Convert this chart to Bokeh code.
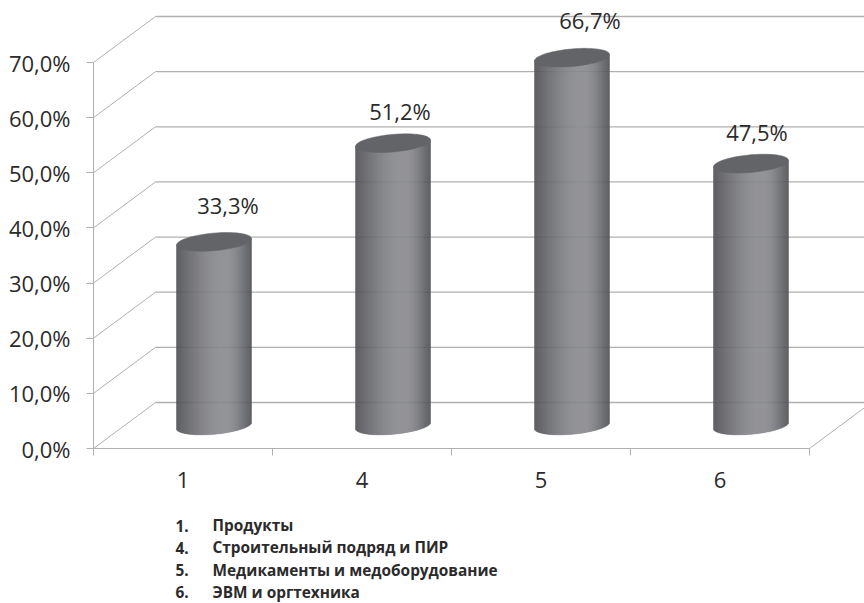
import numpy as np
from bokeh.plotting import figure
from bokeh.models import Range1d, FixedTicker, ColumnDataSource
from bokeh.core.properties import value
from bokeh.embed import file_html
from bokeh.resources import INLINE

# ---- data
categories = ["1", "4", "5", "6"]
values = [33.3, 51.2, 66.7, 47.5]
value_labels = ["33,3%", "51,2%", "66,7%", "47,5%"]
y_ticks = [0, 10, 20, 30, 40, 50, 60, 70]
y_tick_labels = ["0,0%", "10,0%", "20,0%", "30,0%", "40,0%", "50,0%", "60,0%", "70,0%"]
legend_numbers = ["1.", "4.", "5.", "6."]
legend_names = ["Продукты", "Строительный подряд и ПИР", "Медикаменты и медоборудование", "ЭВМ и оргтехника"]

# ---- layout
W, H = 864, 603
LEFT, BOTTOM = 93, 155
PX_X = 179.0      # px per category slot
PX_Y = 386 / 70   # px per percent
DX, DY = 62 / PX_X, 46 / PX_Y   # 3D depth in data units
FONT = "Open Sans"
GRID = "#b0b0b0"
label_dx = [14, 7, 18, 6]
label_dy = [37, 32, 38, 32]
X_END = (W - LEFT) / PX_X

p = figure(width=W, height=H, output_backend="svg", toolbar_location=None,
           x_range=Range1d(-LEFT / PX_X, X_END), y_range=Range1d(-BOTTOM / PX_Y, (H - BOTTOM) / PX_Y),
           min_border=0, outline_line_color=None,
           background_fill_color="white", border_fill_color="white")
p.grid.visible = False

# ---- axes
ya = p.yaxis[0]
ya.fixed_location = 0
ya.ticker = FixedTicker(ticks=y_ticks)
ya.major_label_overrides = {t: l for t, l in zip(y_ticks, y_tick_labels)}
ya.bounds = (0, 70)
ya.major_tick_in, ya.major_tick_out, ya.minor_tick_in, ya.minor_tick_out = 0, 7, 0, 0
ya.major_label_standoff = 16
ya.major_label_text_font = FONT
ya.major_label_text_font_size = "22px"
ya.major_label_text_color = "#2b2b2b"
ya.axis_line_color = GRID
ya.major_tick_line_color = GRID

xa = p.xaxis[0]
xa.fixed_location = 0
n = len(categories)
centers = [i + 0.5 for i in range(n)]
xa.ticker = FixedTicker(ticks=centers, minor_ticks=list(range(n + 1)))
xa.major_label_overrides = {c: l for c, l in zip(centers, categories)}
xa.bounds = (0, n)
xa.major_tick_in, xa.major_tick_out, xa.minor_tick_in, xa.minor_tick_out = 0, 0, 0, 7
xa.major_label_standoff = 16
xa.major_label_text_font = FONT
xa.major_label_text_font_size = "22px"
xa.major_label_text_color = "#2b2b2b"
xa.axis_line_color = GRID
xa.minor_tick_line_color = GRID

# ---- walls
p.segment(x0=[DX] * len(y_ticks), x1=[X_END + 1] * len(y_ticks),
          y0=[t + DY for t in y_ticks], y1=[t + DY for t in y_ticks],
          line_color=GRID, line_width=1.3)
p.segment(x0=[0] * len(y_ticks), x1=[DX] * len(y_ticks),
          y0=y_ticks, y1=[t + DY for t in y_ticks], line_color=GRID, line_width=1)
p.segment(x0=[n], x1=[n + DX], y0=[0], y1=[DY], line_color=GRID, line_width=1)

# ---- cylinders
HALF_W = 37.5   # px
B_PX, K_PX = 8.8, 3.2   # ellipse half height and tilt, px
def shade(u):
    t = np.clip((u + 1) / 1.3, 0, 1) if u < 0.3 else np.clip((1 - u) / 0.7, 0, 1)
    s = np.sin(t * np.pi / 2) ** 1.1
    v = 0x50 + (0x89 - 0x50) * s
    return "#%02x%02x%02x" % (int(v), int(v + 1), int(v + 5))

strips = 75
us = (np.arange(strips) + 0.5) / strips * 2 - 1
edge = 2 / strips * HALF_W / PX_X
x0s, x1s, y0s, y1s, cols = [], [], [], [], []
for i, val in enumerate(values):
    cx = centers[i] + DX / 2
    for u in us:
        lift = K_PX * u / PX_Y
        arc = B_PX * np.sqrt(1 - u * u) / PX_Y
        c = cx + u * HALF_W / PX_X
        x0s.append(c - edge / 2)
        x1s.append(c + edge / 2)
        y0s.append(DY / 2 + lift - arc)
        y1s.append(val + DY / 2 + lift)
        cols.append(shade(u))
p.quad(source=ColumnDataSource(dict(left=x0s, right=x1s, bottom=y0s, top=y1s, c=cols)),
       left="left", right="right", bottom="bottom", top="top",
       fill_color="c", line_color="c", line_width=0.4)

ts = np.linspace(0, 2 * np.pi, 80)
cap_x = [[centers[i] + DX / 2 + np.cos(t) * HALF_W / PX_X for t in ts] for i in range(n)]
cap_y = [[v + DY / 2 + (K_PX * np.cos(t) + B_PX * np.sin(t)) / PX_Y for t in ts] for v in values]
p.patches(cap_x, cap_y, fill_color="#636468", line_color="#636468", line_width=0.5)

# ---- value labels
p.text(x=[centers[i] + DX / 2 + label_dx[i] / PX_X for i in range(n)],
       y=[values[i] + DY / 2 + label_dy[i] / PX_Y for i in range(n)],
       text=value_labels, text_font=value(FONT), text_font_size="22px",
       text_color="#2b2b2b", text_align="center", text_baseline="middle")

# ---- caption below the chart
rows = [-(77 + i * 22.3) / PX_Y for i in range(len(legend_names))]
p.text(x=[82 / PX_X] * len(rows), y=rows, text=legend_numbers, text_font=value(FONT),
       text_font_size="15.4px", text_font_style="bold", text_color="#2b2b2b", text_baseline="middle")
p.text(x=[119 / PX_X] * len(rows), y=rows, text=legend_names, text_font=value(FONT),
       text_font_size="15.4px", text_font_style="bold", text_color="#2b2b2b", text_baseline="middle")

open("out.html", "w").write(file_html(p, INLINE))
